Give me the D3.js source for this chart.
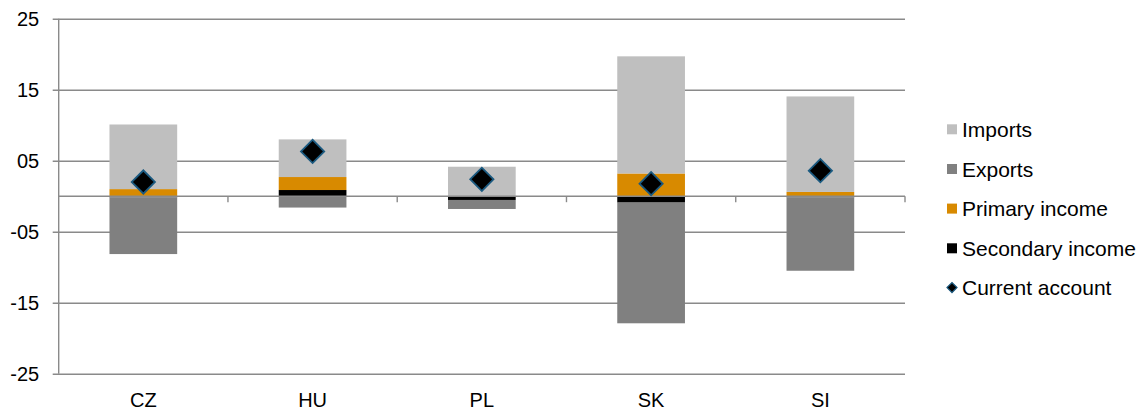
<!DOCTYPE html>
<html>
<head>
<meta charset="utf-8">
<script src="https://cdn.jsdelivr.net/npm/d3@7"></script>
<style>
  body { margin: 0; background: #fff; }
  text { font-family: "Liberation Sans", Arial, sans-serif; fill: #000; }
</style>
</head>
<body>
<svg id="chart" width="1146" height="410"></svg>
<script>
// data (% of GDP)
const countries = ["CZ", "HU", "PL", "SK", "SI"];
const imports = [9.1, 5.3, 4.15, 16.5, 13.45];
const exports = [-8.0, -1.6, -1.27, -17.0, -10.35];
const primaryIncome = [1.0, 1.83, 0.0, 3.2, 0.6];
const secondaryIncome = [-0.15, 0.87, -0.53, -0.9, -0.15];
const currentAccount = [2.0, 6.3, 2.38, 1.76, 3.6];
const yTicks = [25, 15, 5, -5, -15, -25];

const legendItems = ["Imports", "Exports", "Primary income", "Secondary income", "Current account"];
const colors = {
    "Imports": "#bfbfbf",
    "Exports": "#808080",
    "Primary income": "#d88a00",
    "Secondary income": "#000000"
};

const rows = countries.map((c, i) => ({
    country: c,
    "Imports": imports[i],
    "Exports": exports[i],
    "Primary income": primaryIncome[i],
    "Secondary income": secondaryIncome[i],
    ca: currentAccount[i]
}));

// stacking order from zero outward
const stackKeys = ["Secondary income", "Primary income", "Exports", "Imports"];
const series = d3.stack().keys(stackKeys).offset(d3.stackOffsetDiverging)(rows);

const svg = d3.select("#chart");
const plotLeft = 58.7, plotRight = 905, plotTop = 18.7, plotBottom = 373.7;

const x = d3.scaleBand().domain(countries).range([plotLeft, plotRight]).paddingInner(0.6).paddingOuter(0.3);
const y = d3.scaleLinear().domain([-25, 25]).range([plotBottom, plotTop]);
const gridColor = "#8a8a8a";

// gridlines + y labels
const yAxis = svg.append("g").attr("transform", `translate(${plotLeft},0)`)
    .call(d3.axisLeft(y).tickValues(yTicks).tickSize(-(plotRight - plotLeft)).tickPadding(19.5)
        .tickFormat(d => (d < 0 ? "-" : "") + String(Math.abs(d)).padStart(2, "0")));
yAxis.select(".domain").remove();
yAxis.selectAll(".tick line").attr("stroke", gridColor).attr("stroke-width", 1.4).attr("x1", -6);
yAxis.selectAll(".tick text").attr("font-size", 20).attr("font-family", "Liberation Sans, Arial, sans-serif");

// vertical axis line
svg.append("line").attr("x1", plotLeft).attr("x2", plotLeft).attr("y1", plotTop).attr("y2", plotBottom)
    .attr("stroke", gridColor).attr("stroke-width", 1.4);

// stacked bars
svg.append("g").selectAll("g").data(series).join("g")
    .attr("fill", d => colors[d.key])
    .selectAll("rect").data(d => d).join("rect")
    .attr("x", d => x(d.data.country))
    .attr("width", x.bandwidth())
    .attr("y", d => y(Math.max(d[0], d[1])))
    .attr("height", d => Math.abs(y(d[0]) - y(d[1])));

// zero axis with category ticks
const step = x.step();
svg.append("line").attr("x1", plotLeft).attr("x2", plotRight).attr("y1", y(0)).attr("y2", y(0))
    .attr("stroke", gridColor).attr("stroke-width", 1.4);
svg.append("g").selectAll("line").data(countries).join("line")
    .attr("x1", d => x(d) + x.bandwidth() / 2 + step / 2)
    .attr("x2", d => x(d) + x.bandwidth() / 2 + step / 2)
    .attr("y1", y(0)).attr("y2", y(0) + 6)
    .attr("stroke", gridColor).attr("stroke-width", 1.4);

// category labels
svg.append("g").selectAll("text").data(countries).join("text")
    .attr("x", d => x(d) + x.bandwidth() / 2)
    .attr("y", 407)
    .attr("text-anchor", "middle")
    .attr("font-size", 20)
    .text(d => d);

// current account diamonds
const diamond = d3.symbol().type(d3.symbolSquare).size(270);
svg.append("g").selectAll("path").data(rows).join("path")
    .attr("d", diamond)
    .attr("transform", d => `translate(${x(d.country) + x.bandwidth() / 2},${y(d.ca)}) rotate(45)`)
    .attr("fill", "#000")
    .attr("stroke", "#1b5a80")
    .attr("stroke-width", 1.8);

// legend
const legend = svg.append("g");
const legendY = [129.3, 169, 208.6, 248.3, 287.6];
legendItems.forEach((name, i) => {
    const g = legend.append("g").attr("transform", `translate(947,${legendY[i]})`);
    if (colors[name]) {
        g.append("rect").attr("x", 0).attr("y", -5).attr("width", 10).attr("height", 10).attr("fill", colors[name]);
    } else {
        g.append("path").attr("d", d3.symbol().type(d3.symbolSquare).size(50))
            .attr("transform", "translate(5,0) rotate(45)")
            .attr("fill", "#000").attr("stroke", "#1b5a80").attr("stroke-width", 1.2);
    }
    g.append("text").attr("x", 15).attr("y", 7.5).attr("font-size", 21).text(name);
});
</script>
</body>
</html>
